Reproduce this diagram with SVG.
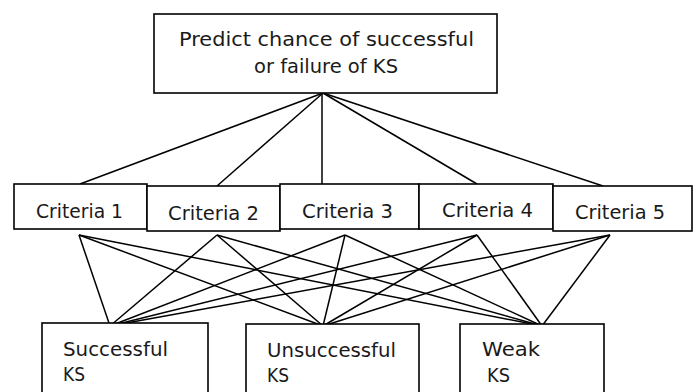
<svg xmlns="http://www.w3.org/2000/svg" width="695" height="392" viewBox="0 0 695 392">
<style>
.box{fill:#fff;stroke:#000;stroke-width:1.6}
.t{font-family:"DejaVu Sans","Liberation Sans",sans-serif;font-size:19px;fill:#1a1a1a}
.c line{stroke:#000;stroke-width:1.5}
</style>
<rect width="695" height="392" fill="#fff"/>
<g class="c" id="connectors">
<line x1="323" y1="93" x2="80" y2="184"/>
<line x1="323" y1="93" x2="217" y2="186"/>
<line x1="322" y1="93" x2="322" y2="184"/>
<line x1="323" y1="93" x2="477" y2="184"/>
<line x1="323" y1="93" x2="603" y2="186"/>
<line x1="79" y1="235" x2="110" y2="326"/>
<line x1="79" y1="235" x2="323" y2="326"/>
<line x1="79" y1="235" x2="542" y2="326"/>
<line x1="217" y1="235" x2="110" y2="326"/>
<line x1="217" y1="235" x2="323" y2="326"/>
<line x1="217" y1="235" x2="542" y2="326"/>
<line x1="345" y1="235" x2="110" y2="326"/>
<line x1="345" y1="235" x2="323" y2="326"/>
<line x1="345" y1="235" x2="542" y2="326"/>
<line x1="477" y1="235" x2="110" y2="326"/>
<line x1="477" y1="235" x2="323" y2="326"/>
<line x1="477" y1="235" x2="542" y2="326"/>
<line x1="610" y1="235" x2="110" y2="326"/>
<line x1="610" y1="235" x2="323" y2="326"/>
<line x1="610" y1="235" x2="542" y2="326"/>
</g>
<g id="goal">
<rect class="box" x="154" y="14" width="343" height="79"/>
<text class="t" x="179" y="46" textLength="295" lengthAdjust="spacingAndGlyphs">Predict chance of successful</text>
<text class="t" x="254" y="73" textLength="144" lengthAdjust="spacingAndGlyphs">or failure of KS</text>
</g>
<g id="criteria1">
<rect class="box" x="14" y="184" width="133" height="45"/>
<text class="t" x="36" y="218" textLength="87" lengthAdjust="spacingAndGlyphs">Criteria 1</text>
</g>
<g id="criteria2">
<rect class="box" x="147" y="186" width="133" height="45"/>
<text class="t" x="168" y="220" textLength="91" lengthAdjust="spacingAndGlyphs">Criteria 2</text>
</g>
<g id="criteria3">
<rect class="box" x="280" y="184" width="139" height="45"/>
<text class="t" x="302" y="218" textLength="91" lengthAdjust="spacingAndGlyphs">Criteria 3</text>
</g>
<g id="criteria4">
<rect class="box" x="419" y="184" width="134" height="45"/>
<text class="t" x="442" y="217" textLength="91" lengthAdjust="spacingAndGlyphs">Criteria 4</text>
</g>
<g id="criteria5">
<rect class="box" x="553" y="186" width="139" height="45"/>
<text class="t" x="575" y="219" textLength="90" lengthAdjust="spacingAndGlyphs">Criteria 5</text>
</g>
<g id="successful">
<rect class="box" x="42" y="323" width="166" height="80"/>
<text class="t" x="63" y="356" textLength="105" lengthAdjust="spacingAndGlyphs">Successful</text>
<text class="t" x="63" y="381" textLength="22" lengthAdjust="spacingAndGlyphs">KS</text>
</g>
<g id="unsuccessful">
<rect class="box" x="246" y="324" width="173" height="80"/>
<text class="t" x="267" y="357" textLength="129" lengthAdjust="spacingAndGlyphs">Unsuccessful</text>
<text class="t" x="267" y="382" textLength="22" lengthAdjust="spacingAndGlyphs">KS</text>
</g>
<g id="weak">
<rect class="box" x="460" y="324" width="144" height="80"/>
<text class="t" x="482" y="356" textLength="58" lengthAdjust="spacingAndGlyphs">Weak</text>
<text class="t" x="487" y="382" textLength="23" lengthAdjust="spacingAndGlyphs">KS</text>
</g>
</svg>
